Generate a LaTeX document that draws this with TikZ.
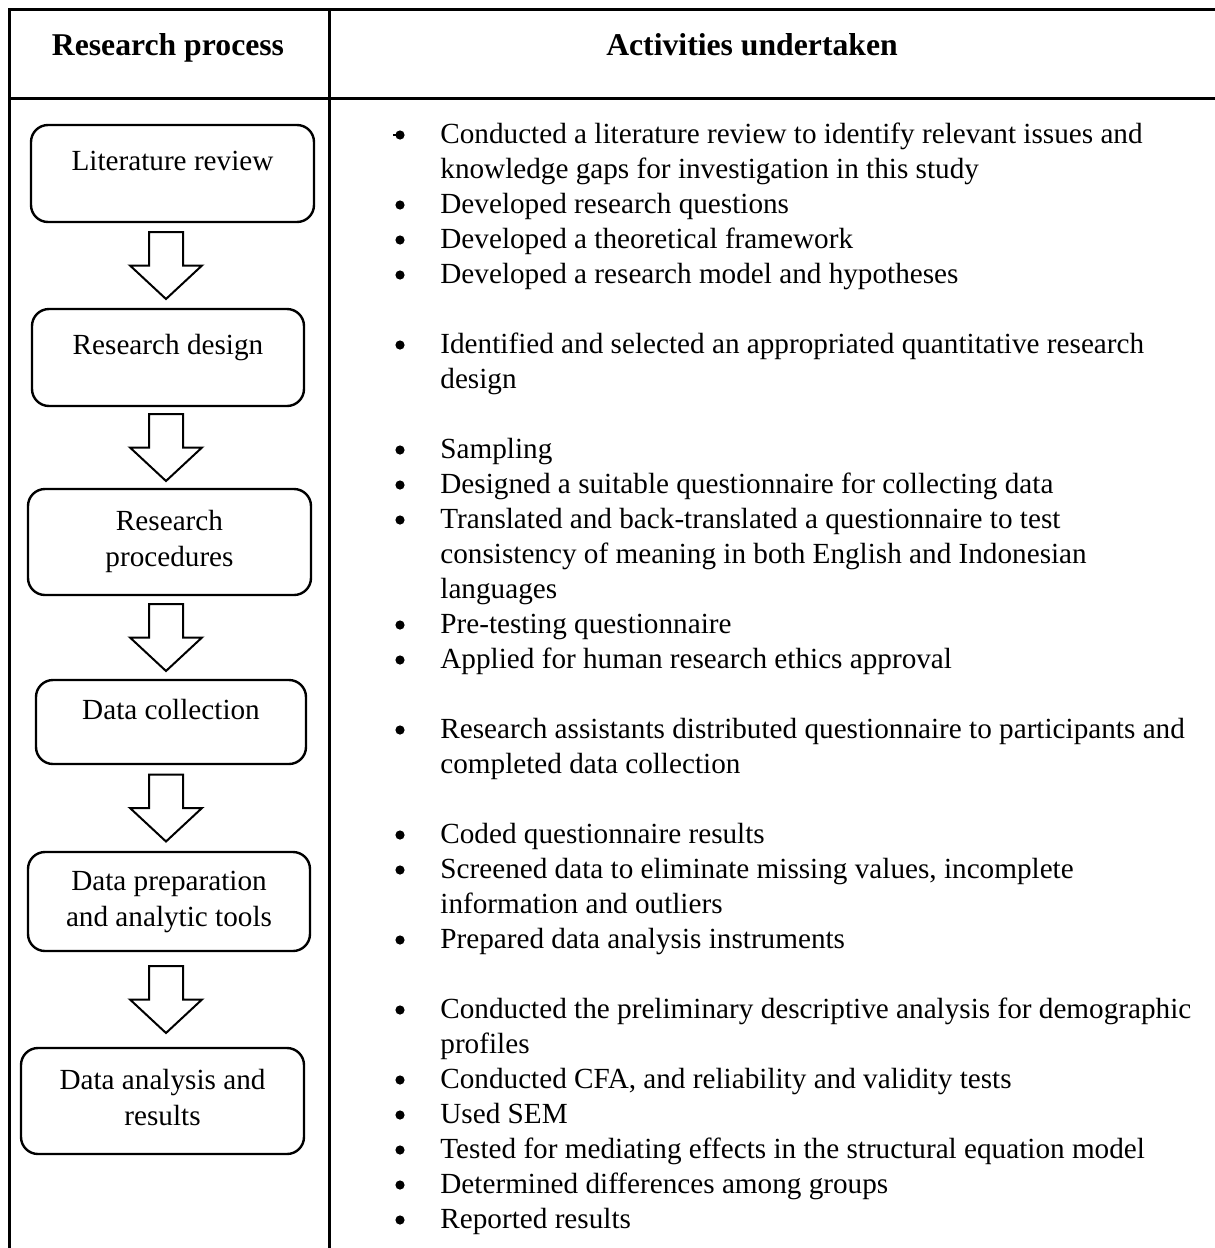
\documentclass[tikz,border=0pt]{standalone}
\usepackage{fontspec}
\setmainfont{Liberation Serif}
\usetikzlibrary{calc}

% one unit = one pixel of the page grid, y grows downwards
\tikzset{
  rule/.style={line width=1.5pt},
  procbox/.style={draw, line width=1.2pt, rounded corners=8.5pt, inner sep=0pt, outer sep=0pt,
    align=center, font=\fontsize{14.6}{18}\selectfont},
  % single line, set a little above the middle of the box
  oneline/.style={procbox, text height=10pt, text depth=13pt},
  % two lines (baseline of the box is the last line)
  twoline/.style={procbox, text height=28pt, text depth=3.4pt},
  headtext/.style={anchor=base, inner sep=0pt, font=\fontsize{15.85}{19}\selectfont\bfseries},
  bodytext/.style={anchor=base west, inner sep=0pt, font=\fontsize{14.6}{17.5}\selectfont},
  bul/.style={circle, fill, inner sep=0pt, minimum size=4.6pt},
  arrowline/.style={draw, line width=1pt, fill=white, line join=miter},
  blockarrow/.pic={\path[arrowline] (-17,-33.5) -- (17,-33.5) -- (17,0) -- (36,0) -- (0,33.5)
      -- (-36,0) -- (-17,0) -- cycle;}
}

% a bulleted line and a continuation line of the right column (line k of the grid)
\newcommand\bulletitem[3]{%
  \node[bul] (#1-dot) at (400,{143+35*#2-8}) {};
  \node[bodytext] (#1) at (440,{143+35*#2}) {#3};}
\newcommand\contline[3]{%
  \node[bodytext] (#1) at (440,{143+35*#2}) {#3};}

\begin{document}
\begin{tikzpicture}[x=0.5pt, y=-0.5pt]
\useasboundingbox[fill=white] (0,0) rectangle (1215,1248);

% table frame
\draw[rule] (9,1260) -- (9,9) -- (1225,9);
\draw[rule] (9,98) -- (1225,98);
\draw[rule] (329,9) -- (329,1260);

% column heads
\node[headtext] (h1) at (168,55) {Research process};
\node[headtext] (h2) at (752,55) {Activities undertaken};

% process steps
\node[oneline, minimum width=141.5pt, minimum height=48.5pt] (b1) at (172.5,173.5) {Literature review};
\node[oneline, minimum width=136pt, minimum height=48.5pt] (b2) at (168,357.5) {Research design};
\node[twoline, minimum width=141.5pt, minimum height=53pt] (b3) at (169.5,542) {Research\\procedures};
\node[oneline, minimum width=135pt, minimum height=42pt] (b4) at (171,722) {Data collection};
\node[twoline, minimum width=141pt, minimum height=49.5pt] (b5) at (169,901.5) {Data preparation\\and analytic tools};
\node[twoline, minimum width=141.5pt, minimum height=53pt] (b6) at (162.5,1101) {Data analysis and\\results};

% block arrows between the steps, on a common axis
\coordinate (axis) at (166,0);
\foreach \a/\b [count=\i] in {b1/b2, b2/b3, b3/b4, b4/b5, b5/b6}{
  \coordinate (m\i) at ($(\a.south)!0.5!(\b.north)$);
  \pic at (m\i -| axis) {blockarrow};
}

% activities
\bulletitem{a1}{0}{Conducted a literature review to identify relevant issues and}
\draw[line width=0.6pt] (393,135) -- (399,135);
\contline{a1b}{1}{knowledge gaps for investigation in this study}
\bulletitem{a2}{2}{Developed research questions}
\bulletitem{a3}{3}{Developed a theoretical framework}
\bulletitem{a4}{4}{Developed a research model and hypotheses}

\bulletitem{d1}{6}{Identified and selected an appropriated quantitative research}
\contline{d1b}{7}{design}

\bulletitem{p1}{9}{Sampling}
\bulletitem{p2}{10}{Designed a suitable questionnaire for collecting data}
\bulletitem{p3}{11}{Translated and back-translated a questionnaire to test}
\contline{p3b}{12}{consistency of meaning in both English and Indonesian}
\contline{p3c}{13}{languages}
\bulletitem{p4}{14}{Pre-testing questionnaire}
\bulletitem{p5}{15}{Applied for human research ethics approval}

\bulletitem{c1}{17}{Research assistants distributed questionnaire to participants and}
\contline{c1b}{18}{completed data collection}

\bulletitem{t1}{20}{Coded questionnaire results}
\bulletitem{t2}{21}{Screened data to eliminate missing values, incomplete}
\contline{t2b}{22}{information and outliers}
\bulletitem{t3}{23}{Prepared data analysis instruments}

\bulletitem{r1}{25}{Conducted the preliminary descriptive analysis for demographic}
\contline{r1b}{26}{profiles}
\bulletitem{r2}{27}{Conducted CFA, and reliability and validity tests}
\bulletitem{r3}{28}{Used SEM}
\bulletitem{r4}{29}{Tested for mediating effects in the structural equation model}
\bulletitem{r5}{30}{Determined differences among groups}
\bulletitem{r6}{31}{Reported results}
\end{tikzpicture}
\end{document}
